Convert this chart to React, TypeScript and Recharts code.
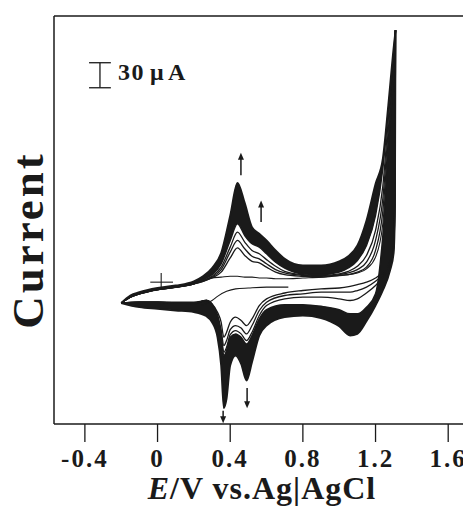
import React from "react";
import { ComposedChart, Line, Area, XAxis, YAxis, ReferenceLine } from "recharts";

// potentials (V vs Ag|AgCl)
const E_FWD = [-0.2, -0.15, -0.1, 0, 0.1, 0.2, 0.25, 0.3, 0.35, 0.4, 0.44, 0.48, 0.52, 0.56, 0.6, 0.65, 0.7, 0.8, 0.9, 1.0, 1.05, 1.1, 1.15, 1.2, 1.24, 1.27, 1.3, 1.31];
const E_REV = [-0.2, -0.1, 0, 0.1, 0.2, 0.27, 0.3, 0.33, 0.35, 0.365, 0.38, 0.4, 0.43, 0.46, 0.49, 0.52, 0.56, 0.6, 0.7, 0.8, 0.9, 1.0, 1.06, 1.1, 1.15, 1.2, 1.24, 1.28, 1.3, 1.307, 1.31];
const E_START = [-0.2, -0.1, 0, 0.1, 0.2, 0.25, 0.3, 0.33, 0.38, 0.43, 0.5, 0.6, 0.72];

// currents (uA)
const I_START = [-25, -24, -24, -25, -26, -27, -22, -17, -11, -8, -7, -6, -6];
const I_FIRST_FWD = [-25, -18, -14, -9, -6, -2, 2, 5, 6, 7, 7, 6, 6, 5, 5, 4, 4, 5, 6, 8, 9, 11, 16, 30, 70, 160, 255, 302];

const I_C2_FWD = [-25, -18, -14, -9, -6, -2, 1, 5, 12, 29, 41, 32, 25, 23, 18, 12, 9, 7, 6, 8, 9, 12, 18, 38, 85, 170, 262, 302];
const I_C3_FWD = [-25, -18, -14, -9, -6, -2, 1, 6, 15, 36, 50, 40, 31, 28, 22, 15, 11, 8, 7, 9, 11, 15, 24, 50, 100, 182, 266, 302];
const I_C4_FWD = [-25, -18, -14, -9, -6, -2, 2, 7, 18, 42, 60, 48, 38, 34, 27, 19, 13, 9, 8, 10, 13, 19, 32, 62, 115, 194, 270, 302];
const I_BAND_FWD = [-25, -18, -14, -9, -6, -2, 3, 9, 22, 50, 70, 56, 46, 42, 34, 24, 17, 10, 9, 12, 17, 26, 44, 80, 136, 205, 275, 302];
const I_OUTER_FWD = [-25, -16, -12, -7, -4, 1, 7, 17, 35, 80, 119, 95, 66, 58, 50, 38, 28, 20, 20, 25, 31, 44, 74, 118, 148, 212, 282, 302];

const I_C2_REV = [-25, -24, -24, -24, -24, -22, -26, -36, -48, -66, -60, -48, -42, -46, -52, -44, -28, -20, -13, -10, -8, -7, -5, -3, 0, 5, 12, 25, 45, 110, 302];
const I_C3_REV = [-25, -24, -24, -25, -25, -22, -26, -39, -57, -76, -70, -57, -52, -55, -62, -52, -34, -24, -16, -14, -12, -12, -12, -10, -6, 1, 9, 22, 42, 108, 302];
const I_C4_REV = [-25, -24, -24, -25, -25, -22, -27, -41, -62, -84, -78, -63, -58, -62, -70, -60, -40, -28, -20, -18, -18, -20, -22, -20, -13, -4, 6, 20, 40, 105, 302];
const I_BAND_REV = [-25, -24, -24, -25, -25, -22, -28, -43, -66, -88, -82, -66, -62, -66, -74, -64, -44, -33, -27, -27, -29, -33, -38, -38, -30, -14, 55, 190, 255, 290, 302];
const I_OUTER_REV = [-25, -30, -32, -34, -36, -41, -48, -66, -100, -151, -140, -100, -88, -98, -118, -96, -64, -52, -42, -40, -43, -53, -64, -62, -47, -28, -10, 14, 35, 90, 302];

const X_TICKS = [-0.4, 0, 0.4, 0.8, 1.2, 1.6];

// annotations (data units)
const SCALE_E = -0.317;
const SCALE_LOW = 233;
const SCALE_UA = 30;
const ARROWS = [
  { E: 0.459, from: 128, to: 155 },
  { E: 0.57, from: 72, to: 98 },
  { E: 0.361, from: -154, to: -169 },
  { E: 0.493, from: -127, to: -151 },
];

const INK = "#1a1a1a";
const SERIF = '"Liberation Serif", "Times New Roman", serif';
const X_DOMAIN: [number, number] = [-0.57, 1.72];

const pts = (es: number[], is: number[]) => es.map((E, k) => ({ E, I: is[k] }));
const range = (es: number[], lo: number[], hi: number[]) => es.map((E, k) => ({ E, r: [lo[k], hi[k]] }));

const thin = [
  { id: "start", data: pts(E_START, I_START), w: 1.1 },
  { id: "first", data: pts(E_FWD, I_FIRST_FWD), w: 1.1 },
  { id: "c2f", data: pts(E_FWD, I_C2_FWD), w: 1.3 },
  { id: "c2r", data: pts(E_REV, I_C2_REV), w: 1.3 },
  { id: "c3f", data: pts(E_FWD, I_C3_FWD), w: 1.3 },
  { id: "c3r", data: pts(E_REV, I_C3_REV), w: 1.3 },
  { id: "c4f", data: pts(E_FWD, I_C4_FWD), w: 1.3 },
  { id: "c4r", data: pts(E_REV, I_C4_REV), w: 1.3 },
  { id: "bf", data: pts(E_FWD, I_BAND_FWD), w: 1.5 },
  { id: "br", data: pts(E_REV, I_BAND_REV), w: 1.5 },
  { id: "of", data: pts(E_FWD, I_OUTER_FWD), w: 1.8 },
  { id: "or", data: pts(E_REV, I_OUTER_REV), w: 1.8 },
];

function ArrowShape(p: any) {
  const { x1, y1, x2, y2 } = p;
  const d = y2 < y1 ? 1 : -1;
  const h = 7, w = 3;
  return (
    <g>
      <line x1={x1} y1={y1} x2={x2} y2={y2 + d * h * 0.6} stroke={INK} strokeWidth={1.5} />
      <polygon points={`${x2},${y2} ${x2 - w},${y2 + d * h} ${x2 + w},${y2 + d * h}`} fill={INK} />
    </g>
  );
}

const fmt = (v: number) => (v === 0 ? "0" : v.toFixed(1));

function XTitle(props: any) {
  const vb = props.viewBox;
  return (
    <text x={vb.x + vb.width / 2} y={vb.y + 75} textAnchor="middle" fontFamily={SERIF} fontWeight="bold" fontSize={32} letterSpacing={1} fill={INK}>
      <tspan fontStyle="italic">E</tspan>/V vs.Ag|AgCl
    </text>
  );
}

function YTitle(props: any) {
  const vb = props.viewBox;
  const x = vb.x + (vb.width || 0) - 11;
  const y = vb.y + vb.height / 2 + 20;
  return (
    <text x={x} y={y} transform={`rotate(-90 ${x} ${y})`} textAnchor="middle" fontFamily={SERIF} fontWeight="bold" fontSize={45} letterSpacing={3} fill={INK}>
      Current
    </text>
  );
}

function ScaleText(props: any) {
  const vb = props.viewBox;
  return (
    <text x={vb.x + 18} y={vb.y + 17} fontFamily={SERIF} fontWeight="bold" fontSize={24} letterSpacing={1.5} fill={INK}>
      30<tspan dx={5}>μ</tspan><tspan dx={3}>A</tspan>
    </text>
  );
}

export default function App() {
  return (
    <div style={{ position: "absolute", left: 0, top: 0, width: 463, height: 506, overflow: "hidden", background: "#fff" }}>
      <ComposedChart width={480} height={506} margin={{ top: 15, right: 10, bottom: 0, left: 53 }}>
        <XAxis
          dataKey="E"
          type="number"
          domain={X_DOMAIN}
          allowDataOverflow
          ticks={X_TICKS}
          tickFormatter={fmt}
          height={82}
          tickSize={18}
          tickMargin={7}
          axisLine={{ stroke: INK, strokeWidth: 1.5 }}
          tickLine={{ stroke: INK, strokeWidth: 1.3 }}
          tick={{ fontFamily: SERIF, fontWeight: "bold", fontSize: 25, letterSpacing: 2, fill: INK }}
          label={{ content: XTitle }}
        />
        <XAxis xAxisId="top" orientation="top" type="number" domain={X_DOMAIN} height={1} tick={false} tickLine={false} axisLine={{ stroke: INK, strokeWidth: 1.3 }} />
        <YAxis
          type="number"
          domain={[-170, 319]}
          allowDataOverflow
          width={1}
          tick={false}
          tickLine={false}
          axisLine={{ stroke: INK, strokeWidth: 1.5 }}
          label={{ content: YTitle }}
        />

        <Area data={range(E_FWD, I_BAND_FWD, I_OUTER_FWD)} dataKey="r" type="monotoneX" stroke="none" fill={INK} fillOpacity={1} isAnimationActive={false} activeDot={false} />
        <Area data={range(E_REV, I_OUTER_REV, I_BAND_REV)} dataKey="r" type="monotoneX" stroke="none" fill={INK} fillOpacity={1} isAnimationActive={false} activeDot={false} />

        {thin.map((s) => (
          <Line key={s.id} data={s.data} dataKey="I" type="monotoneX" stroke={INK} strokeWidth={s.w} dot={false} activeDot={false} isAnimationActive={false} />
        ))}

        {/* 30 uA scale bar */}
        <ReferenceLine segment={[{ x: SCALE_E, y: SCALE_LOW }, { x: SCALE_E, y: SCALE_LOW + SCALE_UA }]} stroke={INK} strokeWidth={1.3} label={{ content: ScaleText }} />
        <ReferenceLine segment={[{ x: SCALE_E - 0.06, y: SCALE_LOW }, { x: SCALE_E + 0.06, y: SCALE_LOW }]} stroke={INK} strokeWidth={1.3} />
        <ReferenceLine segment={[{ x: SCALE_E - 0.06, y: SCALE_LOW + SCALE_UA }, { x: SCALE_E + 0.06, y: SCALE_LOW + SCALE_UA }]} stroke={INK} strokeWidth={1.3} />

        {/* zero-current cross */}
        <ReferenceLine segment={[{ x: -0.04, y: 0 }, { x: 0.085, y: 0 }]} stroke={INK} strokeWidth={1.1} />
        <ReferenceLine segment={[{ x: 0.02, y: -8 }, { x: 0.02, y: 11 }]} stroke={INK} strokeWidth={1.1} />

        {ARROWS.map((a, k) => (
          <ReferenceLine key={"ar" + k} segment={[{ x: a.E, y: a.from }, { x: a.E, y: a.to }]} shape={ArrowShape} />
        ))}
      </ComposedChart>
    </div>
  );
}
